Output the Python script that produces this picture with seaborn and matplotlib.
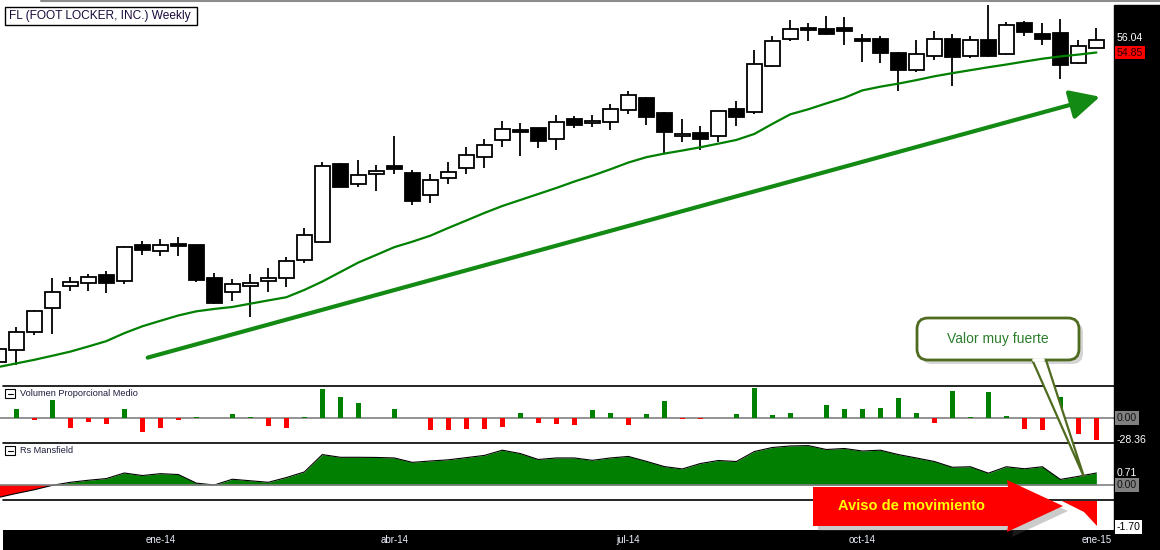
import numpy as np
import pandas as pd
import matplotlib.pyplot as plt
import seaborn as sns
from matplotlib.patches import Rectangle, Polygon, FancyBboxPatch

sns.set_theme(style='white')
plt.rcParams['font.family'] = ['Liberation Sans', 'DejaVu Sans']

# Weekly candles FL, from mid Nov-13 to mid Jan-15 (62 bars)
opens = [26.50, 27.62, 29.29, 31.47, 33.50, 33.69, 34.43, 33.95, 37.25, 36.71, 37.32, 37.22, 34.20, 32.91,
         33.46, 33.88, 34.20, 35.81, 37.51, 44.62, 42.85, 43.75, 44.45, 43.81, 41.76, 43.34, 44.23, 45.32,
         46.80, 47.73, 47.90, 46.90, 48.80, 48.35, 48.44, 49.57, 50.69, 49.31, 47.16, 47.48, 47.16, 49.68,
         49.44, 53.59, 56.06, 57.10, 56.99, 57.10, 56.06, 56.12, 54.78, 53.29, 54.52, 56.06, 54.52, 55.96,
         54.68, 57.51, 56.55, 56.61, 53.93, 55.29]
highs = [27.87, 29.71, 31.26, 34.20, 34.29, 34.52, 34.84, 37.10, 37.61, 37.80, 37.95, 37.25, 34.65, 34.10,
         34.59, 35.07, 36.12, 38.78, 44.84, 44.73, 45.00, 44.55, 47.20, 44.13, 43.68, 44.82, 46.16, 46.93,
         48.54, 48.35, 47.95, 49.13, 49.03, 49.13, 50.14, 51.33, 50.79, 49.40, 48.76, 48.12, 49.50, 50.41,
         55.06, 56.35, 57.83, 57.53, 58.19, 58.12, 56.55, 56.35, 54.90, 55.96, 56.83, 56.51, 56.38, 59.21,
         57.64, 57.74, 57.53, 57.92, 56.03, 57.10]
lows = [26.32, 26.22, 28.97, 29.07, 33.00, 33.00, 32.82, 33.65, 36.30, 36.21, 36.21, 33.85, 31.81, 32.09,
        30.62, 32.91, 33.37, 35.61, 37.40, 42.50, 42.56, 42.16, 43.75, 40.92, 41.08, 42.85, 43.68, 44.30,
        46.22, 45.39, 46.13, 45.94, 47.94, 48.05, 47.77, 49.25, 48.25, 45.62, 46.65, 45.90, 46.65, 48.16,
        49.25, 53.55, 55.90, 55.93, 56.42, 55.57, 54.00, 53.93, 51.31, 53.06, 54.13, 51.78, 54.33, 54.46,
        54.59, 56.32, 55.55, 52.42, 53.81, 55.25]
closes = [27.69, 29.29, 31.17, 32.91, 33.83, 34.29, 33.69, 37.03, 36.78, 37.22, 37.16, 34.01, 31.92, 33.65,
          33.78, 34.20, 35.75, 38.10, 44.43, 42.56, 43.59, 43.98, 44.20, 41.28, 43.14, 43.88, 45.43, 46.35,
          47.80, 47.57, 46.77, 48.44, 48.25, 48.54, 49.63, 50.96, 48.90, 47.61, 47.39, 46.96, 49.47, 48.96,
          53.81, 55.87, 56.96, 56.87, 56.57, 56.80, 55.93, 54.84, 53.29, 54.68, 56.06, 54.42, 55.96, 54.52,
          57.34, 56.70, 56.12, 53.74, 55.45, 56.04]
# moving average drawn over the candles
ma = [26.04, 26.37, 26.70, 27.07, 27.45, 27.92, 28.41, 29.14, 29.77, 30.27, 30.76, 31.14, 31.36, 31.54,
      31.84, 32.14, 32.43, 33.10, 33.87, 34.74, 35.61, 36.31, 37.02, 37.52, 38.07, 38.78, 39.46, 40.15,
      40.79, 41.34, 41.89, 42.44, 43.03, 43.57, 44.15, 44.77, 45.26, 45.59, 45.87, 46.17, 46.50, 46.84,
      47.39, 48.31, 49.19, 49.65, 50.19, 50.70, 51.38, 51.72, 52.00, 52.32, 52.67, 52.96, 53.23, 53.50,
      53.75, 54.02, 54.28, 54.49, 54.66, 54.85]
# Volumen Proporcional Medio
volume = [0, 12.1, -2.6, 23.6, -13.1, -5.3, -7.9, 11.8, -18.4, -13.1, -2.0, 1.3, 0, 5.3, 1.3, -10.0,
          -13.1, 1.3, 38.3, 27.6, 19.7, 0, 11.8, 0, -15.8, -15.8, -14.4, -14.4, -11.4, 7.1, -6.6, -7.9,
          -9.2, 10.5, 7.1, -9.2, 5.3, 22.7, -1.3, -1.3, 0, 5.3, 39.8, 3.9, 7.1, 0, 17.1, 11.8, 11.8, 13.5,
          26.3, 7.1, -6.6, 35.5, 1.3, 34.1, 2.6, -14.4, -15.8, 27.6, -20.6, -28.36]
# Rs Mansfield
rs = [-0.74, -0.50, -0.28, -0.02, 0.16, 0.28, 0.38, 0.71, 0.56, 0.67, 0.62, 0.11, 0.0, 0.34, 0.25, 0.16,
      0.44, 0.77, 1.80, 1.64, 1.64, 1.63, 1.60, 1.34, 1.42, 1.49, 1.62, 1.75, 2.06, 1.86, 1.51, 1.60, 1.60,
      1.46, 1.60, 1.69, 1.40, 1.09, 0.95, 1.27, 1.45, 1.39, 1.98, 2.22, 2.31, 2.33, 2.10, 2.16, 2.01, 2.06,
      1.80, 1.60, 1.39, 1.05, 1.08, 0.70, 1.08, 0.96, 1.08, 0.33, 0.51, 0.71]
rs_floor = -1.70

month_labels = ['ene-14', 'abr-14', 'jul-14', 'oct-14', 'ene-15']
month_pos = [9, 22, 35, 48, 61]

df = pd.DataFrame({'open': opens, 'high': highs, 'low': lows, 'close': closes,
                   'ma': ma, 'vol': volume, 'rs': rs})
df['x'] = np.arange(len(df))

W, H = 1160, 550
fig = plt.figure(figsize=(W / 100, H / 100), dpi=100)
fig.patch.set_facecolor('white')


def px_box(x0, y0, x1, y1):
    return [x0 / W, 1 - y1 / H, (x1 - x0) / W, (y1 - y0) / H]


def px_y(ax, val):
    # pixel row (from the top) of a data value on a panel
    return H - ax.transData.transform((0, val))[1]


xlim = (0.094, 61.98)
ax_p = fig.add_axes(px_box(0, 0, 1114, 386))
ax_v = fig.add_axes(px_box(0, 386, 1114, 443))
ax_r = fig.add_axes(px_box(0, 443, 1114, 500))
ax_d = fig.add_axes(px_box(3, 530, 1160, 550))
for a in (ax_p, ax_v, ax_r):
    a.set_xlim(*xlim)
    a.set_facecolor('white')
    a.set_xticks([])
    a.set_yticks([])
    for s in a.spines.values():
        s.set_visible(False)

# --- price panel ---
ax_p.set_ylim(24.30, 59.66)
up = df['close'] >= df['open']
ax_p.vlines(df['x'], df['low'], df['high'], color='black', lw=1.3, zorder=2)
body_h = (df['close'] - df['open']).abs().clip(lower=0.12)
ax_p.bar(df['x'], body_h, bottom=df[['open', 'close']].min(axis=1), width=0.85,
         color=np.where(up, 'white', 'black'), edgecolor='black', linewidth=1.3, zorder=3)
sns.lineplot(x=df['x'], y=df['ma'], ax=ax_p, color='#008000', linewidth=1.6, zorder=4)
ax_p.annotate('', xy=(61.2, 50.8), xytext=(8.3, 26.9),
              arrowprops=dict(arrowstyle='-|>,head_length=0.9,head_width=0.45', color='#138a13',
                              lw=3, mutation_scale=20, shrinkA=0, shrinkB=0), zorder=5)
ax_p.set_xlabel('')
ax_p.set_ylabel('')

# --- volume panel ---
ax_v.set_ylim(-32.8, 42.0)
ax_v.axhline(0, color='#808080', lw=1.2, zorder=2)
ax_v.bar(df['x'], df['vol'], width=0.28, color=np.where(df['vol'] >= 0, '#008000', '#ff0000'),
         linewidth=0, zorder=3)

# --- Rs Mansfield panel ---
ax_r.set_ylim(-0.888, 2.485)
ax_r.fill_between(df['x'], df['rs'], 0, where=df['rs'] >= 0, interpolate=True, color='#007f00', lw=0, zorder=2)
ax_r.fill_between(df['x'], df['rs'], 0, where=df['rs'] <= 0, interpolate=True, color='#ff0000', lw=0, zorder=2)
sns.lineplot(x=df['x'], y=df['rs'], ax=ax_r, color='black', linewidth=0.8, zorder=3)
ax_r.axhline(0, color='#808080', lw=1.2, zorder=4)
ax_r.set_xlabel('')
ax_r.set_ylabel('')

# --- date strip ---
ax_d.set_facecolor('black')
ax_d.set_xlim((3 + 1.7) / 18, (1160 + 1.7) / 18)
ax_d.set_ylim(0, 1)
ax_d.set_xticks([])
ax_d.set_yticks([])
for s in ax_d.spines.values():
    s.set_visible(False)
for lab, pos in zip(month_labels, month_pos):
    ax_d.text(pos, 0.5, lab, color='#eef2ff', fontsize=7, ha='center', va='center')

# --- overlay in pixel units for frame, labels and annotations ---
ov = fig.add_axes([0, 0, 1, 1])
ov.set_xlim(0, W)
ov.set_ylim(H, 0)
ov.axis('off')

ov.add_patch(Rectangle((1114, 5), 46, 545, color='black', zorder=1))
ov.plot([41, 1160], [0.8, 0.8], color='#8c8c8c', lw=1.5, zorder=1)
for yy in (386, 443, 500):
    ov.plot([3, 1114], [yy, yy], color='black', lw=1.2, zorder=2)

# title box
ov.add_patch(Rectangle((5, 7), 192, 18, facecolor='white', edgecolor='black', lw=1, zorder=3))
ov.text(9, 16.5, 'FL (FOOT LOCKER, INC.) Weekly', fontsize=8.6, color='#1a0a3a', va='center', ha='left', zorder=4)

# panel titles with collapse icons
for yy, name in ((393.5, 'Volumen Proporcional Medio'), (450.5, 'Rs Mansfield')):
    ov.add_patch(Rectangle((5, yy - 4.5), 10, 9, facecolor='white', edgecolor='black', lw=0.8, zorder=3))
    ov.plot([7.5, 12.5], [yy, yy], color='black', lw=0.8, zorder=4)
    ov.text(20, yy, name, fontsize=6.6, color='#1c1c3c', va='center', ha='left', zorder=4)

# right-hand value labels
lx = 1117
lab_kw = dict(fontsize=7.6, va='center', ha='left', zorder=6)
ov.text(lx, px_y(ax_p, closes[-1]) - 1.5, f'{closes[-1]:.2f}', color='white', **lab_kw)
ov.text(lx, px_y(ax_p, ma[-1]), f'{ma[-1]:.2f}', color='#2a0000',
        bbox=dict(boxstyle='square,pad=0.15', fc='#ff0000', ec='none'), **lab_kw)
ov.text(lx, px_y(ax_v, 0), '0.00', color='#111111',
        bbox=dict(boxstyle='square,pad=0.15', fc='#808080', ec='none'), **lab_kw)
ov.text(lx, px_y(ax_v, volume[-1]), f'{volume[-1]:.2f}', color='white', **lab_kw)
ov.text(lx, px_y(ax_r, rs[-1]), f'{rs[-1]:.2f}', color='white', **lab_kw)
ov.text(lx, px_y(ax_r, 0), '0.00', color='#111111',
        bbox=dict(boxstyle='square,pad=0.15', fc='#808080', ec='none'), **lab_kw)
ov.text(lx, 527, f'{rs_floor:.2f}', color='black',
        bbox=dict(boxstyle='square,pad=0.15', fc='white', ec='none'), **lab_kw)

# red "Aviso de movimiento" arrow
arrow_pts = [(813, 487), (1008, 487), (1007, 480), (1063, 506), (1007, 532), (1008, 526), (813, 526)]
ov.add_patch(Polygon([(x + 5, y + 5) for x, y in arrow_pts], closed=True, color='#555555', alpha=0.3,
                     lw=0, zorder=5))
ov.add_patch(Polygon(arrow_pts, closed=True, color='#ff0000', lw=0, zorder=6))
ov.add_patch(Polygon([(1062, 501), (1097, 501), (1097, 526), (1084, 512)], closed=True, color='#ff0000',
                     lw=0, zorder=6))
ov.text(912, 506, 'Aviso de movimiento', color='#ffff00', fontsize=10.5, fontweight='bold',
        ha='center', va='center', zorder=7)

# callout "Valor muy fuerte"
olive = '#4e6b1f'
ov.add_patch(FancyBboxPatch((921, 322), 162, 42, boxstyle='round,pad=0,rounding_size=11',
                            fc='#777777', ec='none', alpha=0.3, zorder=5))
ov.add_patch(Polygon([(1031, 357), (1084, 477), (1045, 357)], closed=True, fc='white', ec=olive,
                     lw=1.6, zorder=6))
ov.add_patch(FancyBboxPatch((917, 318), 162, 42, boxstyle='round,pad=0,rounding_size=11',
                            fc='white', ec=olive, lw=2, zorder=7))
ov.plot([1033.5, 1043], [360, 360], color='white', lw=2.6, zorder=8)
ov.text(998, 339, 'Valor muy fuerte', color='#2a7d2a', fontsize=10, ha='center', va='center', zorder=9)

fig.savefig('out.png', dpi=100, facecolor='white')
